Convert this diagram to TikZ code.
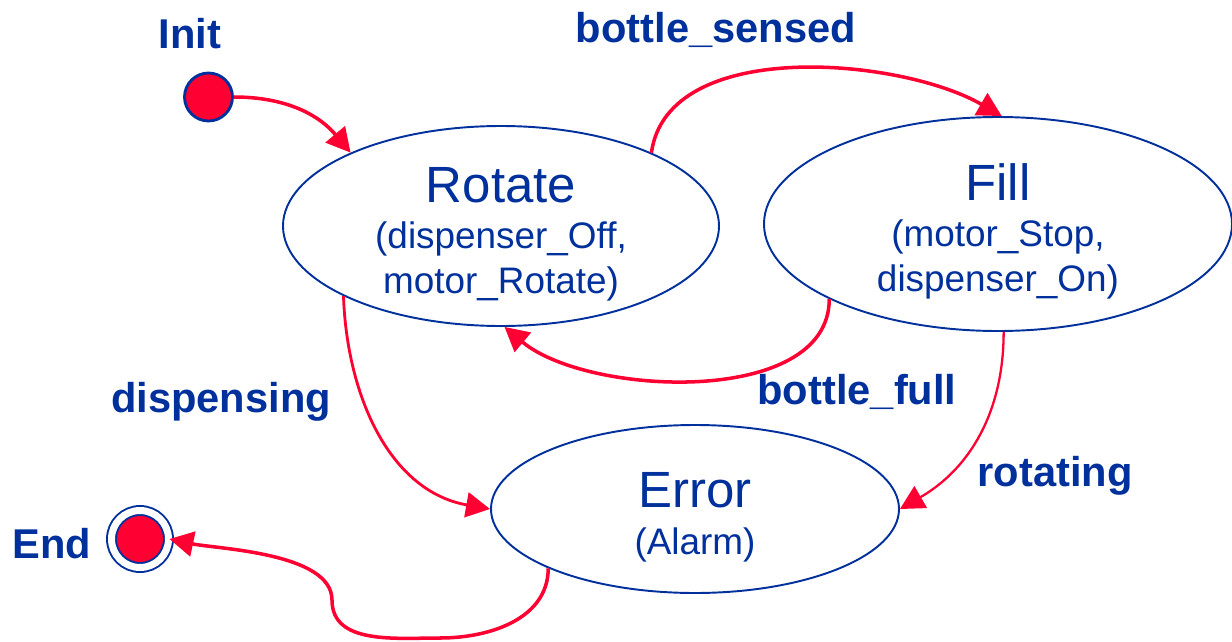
\documentclass[tikz,border=0pt]{standalone}
\usepackage{fontspec}
\setmainfont{Liberation Sans}
\usepackage{xcolor}
\definecolor{stnavy}{HTML}{00309C}
\definecolor{stred}{HTML}{FF0033}
\usetikzlibrary{shapes.geometric, arrows.meta, positioning}
\tikzset{
  sstate/.style={ellipse, draw=stnavy, line width=1.1pt, text=stnavy, align=center, inner xsep=0pt, inner ysep=-5pt,
                 font=\fontsize{21}{26}\selectfont},
  sdot/.style  ={circle, draw=stnavy, line width=1.6pt, fill=stred, inner sep=0pt, minimum size=0.96cm},
  sfinal/.style={circle, draw=stnavy, line width=1.1pt, double=white, double distance=0.14cm,
                 fill=stred, inner sep=0pt, minimum size=1.14cm},
  sarr/.style  ={-{Triangle[length=0.48cm, width=0.5cm]}, line width=2pt, color=stred},
  slbl/.style  ={font=\bfseries\fontsize{23.7}{28}\selectfont, text=stnavy, inner sep=0pt, anchor=base},
}
% state name, with a tall strut so the three lines sit a little low in the ellipse
\newcommand{\stname}[1]{{\fontsize{29}{26}\selectfont\rule{0pt}{29.5pt}#1}}

\begin{document}
\begin{tikzpicture}
  \useasboundingbox (0,0) rectangle (24.64,-12.84);
  % states
  \node[sdot] (init) at (4.17,-1.94) {};
  \node[sstate, minimum width=8.72cm, minimum height=4.0cm] (rot) at (10.02,-4.52) {\stname{Rotate}\\(dispenser\_Off,\\motor\_Rotate)};
  \node[sstate, minimum width=9.36cm, minimum height=4.28cm] (fil) at (19.96,-4.48) {\stname{Fill}\\(motor\_Stop,\\dispenser\_On)};
  \node[sstate, minimum width=8.16cm, minimum height=3.36cm] (err) at (13.9,-10.18) {\stname{Error}\\[1pt](Alarm)};
  \node[sfinal] (fin) at (2.8,-10.78) {};
  % labels
  \node[slbl] (initlbl) at (3.8,-0.96) {Init};
  \node[slbl] (sensedlbl) at (14.32,-0.84) {bottle\_sensed};
  \node[slbl] (displbl) at (4.42,-8.24) {dispensing};
  \node[slbl] (fulllbl) at (17.14,-8.08) {bottle\_full};
  \node[slbl] (rotlbl) at (21.1,-9.72) {rotating};
  \node[slbl] (endlbl) at (1.04,-11.16) {End};
  % transitions
  \draw[sarr] (init.east) to[out=0, in=130] (rot.154);
  \draw[sarr] (rot.26) to[out=82, in=150, looseness=0.85] (fil.88);
  \draw[sarr] (fil.204) to[out=-90, in=-40, looseness=0.85] (rot.272);
  \draw[sarr, line width=1.6pt] (rot.204) to[out=-88, in=170] (err.west);
  \draw[sarr, line width=1.3pt] (fil.273) to[out=-90, in=30] (err.east);
  \draw[sarr] (err.202) to[out=-90, in=0] (8.8,-12.76) to[out=180, in=-90] (6.64,-12.0) to[out=90, in=-12, looseness=0.7] (fin.east);
\end{tikzpicture}
\end{document}
